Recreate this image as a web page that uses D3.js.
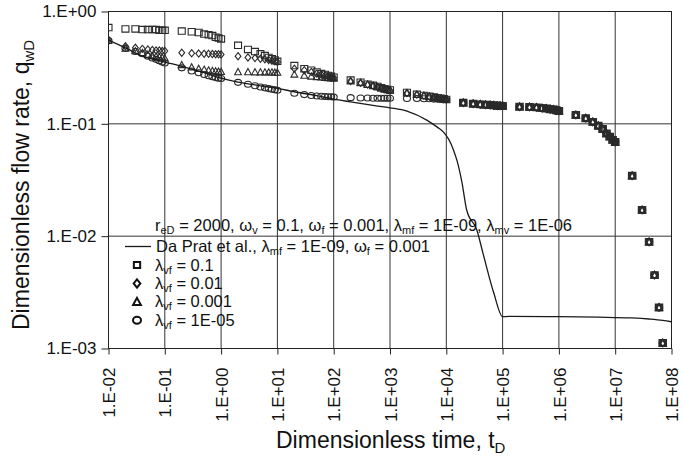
<!DOCTYPE html>
<html>
<head>
<meta charset="utf-8">
<script src="https://cdnjs.cloudflare.com/ajax/libs/d3/7.8.5/d3.min.js"></script>
<style>
body { margin:0; background:#fff; }
svg { font-family: "Liberation Sans", Arial, sans-serif; }
</style>
</head>
<body>
<div id="chart"></div>
<script>
var svgWidth = 685
var svgHeight = 464

// axis ticks
var xTicks = [1e-2, 1e-1, 1e0, 1e1, 1e2, 1e3, 1e4, 1e5, 1e6, 1e7, 1e8]
var yTicks = [1e-3, 1e-2, 1e-1, 1e0]

// sampling times of the simulated points
var tEarly = [0.01,
  0.02, 0.03, 0.04, 0.05, 0.06, 0.07, 0.08, 0.09, 0.1,
  0.2, 0.3, 0.4, 0.5, 0.6, 0.7, 0.8, 0.9, 1,
  2, 3, 4, 5, 6, 7, 8, 9, 10,
  20, 30, 40, 50, 60, 70, 80, 90, 100,
  200, 300, 400, 500, 600, 700, 800, 900, 1000,
  2000, 3000, 4000, 5000, 6000, 7000, 8000, 9000, 10000]
var tLate = [2e4, 3e4, 4e4, 5e4, 6e4, 7e4, 8e4, 9e4, 1e5,
  2e5, 3e5, 4e5, 5e5, 6e5, 7e5, 8e5, 9e5, 1e6,
  2e6, 3e6, 4e6, 5e6, 6e6, 7e6, 8e6, 9e6, 1e7,
  2e7, 3e7, 4e7, 5e7, 6e7, 7e7]

// qwD, lambda_vf = 0.1
var qVf1 = [0.72,
  0.70, 0.70, 0.69, 0.69, 0.69, 0.69, 0.68, 0.68, 0.68,
  0.67, 0.66, 0.65, 0.63, 0.62, 0.61, 0.59, 0.58, 0.57,
  0.50, 0.46, 0.44, 0.42, 0.405, 0.39, 0.38, 0.37, 0.36,
  0.33, 0.31, 0.30, 0.29, 0.28, 0.275, 0.27, 0.265, 0.26,
  0.245, 0.235, 0.225, 0.22, 0.215, 0.21, 0.205, 0.202, 0.20,
  0.19, 0.183, 0.179, 0.176, 0.173, 0.171, 0.169, 0.167, 0.165]
// lambda_vf = 0.01
var qVf2 = [0.56,
  0.49, 0.475, 0.465, 0.46, 0.455, 0.45, 0.45, 0.445, 0.445,
  0.43, 0.425, 0.422, 0.42, 0.42, 0.418, 0.417, 0.416, 0.415,
  0.40, 0.39, 0.385, 0.38, 0.375, 0.37, 0.365, 0.36, 0.355,
  0.31, 0.30, 0.29, 0.28, 0.275, 0.27, 0.265, 0.26, 0.257,
  0.24, 0.232, 0.224, 0.218, 0.213, 0.208, 0.204, 0.201, 0.198,
  0.188, 0.182, 0.178, 0.175, 0.172, 0.17, 0.168, 0.166, 0.165]
// lambda_vf = 0.001
var qVf3 = [0.55,
  0.47, 0.445, 0.43, 0.415, 0.405, 0.40, 0.395, 0.39, 0.385,
  0.335, 0.32, 0.31, 0.305, 0.30, 0.297, 0.295, 0.293, 0.291,
  0.29, 0.29, 0.289, 0.289, 0.288, 0.288, 0.288, 0.287, 0.287,
  0.276, 0.27, 0.265, 0.262, 0.26, 0.258, 0.256, 0.255, 0.254,
  0.24, 0.232, 0.224, 0.218, 0.213, 0.208, 0.204, 0.201, 0.198,
  0.188, 0.182, 0.178, 0.175, 0.172, 0.17, 0.168, 0.166, 0.165]
// lambda_vf = 1E-05
var qVf5 = [0.55,
  0.47, 0.44, 0.42, 0.40, 0.385, 0.375, 0.365, 0.355, 0.348,
  0.315, 0.295, 0.285, 0.275, 0.268, 0.263, 0.258, 0.255, 0.253,
  0.234, 0.225, 0.218, 0.213, 0.209, 0.206, 0.203, 0.201, 0.199,
  0.187, 0.182, 0.179, 0.177, 0.176, 0.175, 0.174, 0.174, 0.173,
  0.171, 0.170, 0.170, 0.169, 0.169, 0.169, 0.169, 0.169, 0.169,
  0.168, 0.168, 0.167, 0.167, 0.166, 0.166, 0.165, 0.165, 0.165]
// after 1E+04 all four cases coincide
var qLate = [0.154, 0.151, 0.149, 0.148, 0.147, 0.146, 0.145, 0.145, 0.144,
  0.142, 0.141, 0.140, 0.138, 0.137, 0.135, 0.134, 0.132, 0.130,
  0.120, 0.112, 0.104, 0.096, 0.090, 0.082, 0.077, 0.072, 0.069,
  0.0345, 0.0171, 0.0089, 0.0045, 0.00232, 0.00112]

// Da Prat et al. curve
var lineT = [0.01, 0.02, 0.04, 0.1, 0.2, 0.5, 1, 2, 5, 10, 20, 50, 100, 200, 500, 1000,
  2000, 4500, 7000, 9000, 1.1e4, 1.35e4, 1.55e4, 1.9e4, 2.3e4, 3.5e4, 4.5e4, 7e4, 1e5,
  1.3e5, 1e6, 5e6, 2e7, 4e7, 7e7, 1e8]
var lineQ = [0.557, 0.475, 0.40, 0.355, 0.325, 0.285, 0.255, 0.235, 0.218, 0.207, 0.193, 0.178, 0.166, 0.157, 0.146, 0.139,
  0.130, 0.108, 0.093, 0.084, 0.073, 0.058, 0.047, 0.030, 0.0171, 0.0113, 0.0070, 0.0031, 0.00192,
  0.00193, 0.00192, 0.00190, 0.00187, 0.00183, 0.00178, 0.00173]

var x = d3.scaleLog().domain([1e-2, 1e8]).range([108.5, 671.5])
var y = d3.scaleLog().domain([1e-3, 1]).range([348.5, 11.5])

var svg = d3.select("#chart").append("svg").attr("width", svgWidth).attr("height", svgHeight)

svg.append("defs").append("clipPath").attr("id", "plotclip")
  .append("rect").attr("x", 108.5).attr("y", 11.5).attr("width", 563).attr("height", 337)

// grid
svg.append("g").selectAll("line").data(xTicks.slice(1, -1)).enter().append("line")
  .attr("x1", d => x(d)).attr("x2", d => x(d)).attr("y1", 11.5).attr("y2", 348.5)
  .style("stroke", "#333").style("stroke-width", 1)
svg.append("g").selectAll("line").data(yTicks.slice(1, -1)).enter().append("line")
  .attr("y1", d => y(d)).attr("y2", d => y(d)).attr("x1", 108.5).attr("x2", 671.5)
  .style("stroke", "#333").style("stroke-width", 1)
svg.append("rect").attr("x", 108.5).attr("y", 11.5).attr("width", 563).attr("height", 337)
  .style("fill", "none").style("stroke", "#222").style("stroke-width", 1)

function markerPath(type, s) {
  if (type == "square") return "M" + (-3.5 * s) + "," + (-3.2 * s) + "h" + (7 * s) + "v" + (6.4 * s) + "h" + (-7 * s) + "Z"
  if (type == "diamond") return "M0," + (-3.6 * s) + "L" + (2.9 * s) + ",0L0," + (3.6 * s) + "L" + (-2.9 * s) + ",0Z"
  if (type == "triangle") return "M0," + (-3.4 * s) + "L" + (3.4 * s) + "," + (2.8 * s) + "L" + (-3.4 * s) + "," + (2.8 * s) + "Z"
  var rx = 3.5 * s, ry = 3 * s
  return "M" + (-rx) + ",0a" + rx + "," + ry + " 0 1,0 " + (2 * rx) + ",0a" + rx + "," + ry + " 0 1,0 " + (-2 * rx) + ",0Z"
}

var series = [
  { type: "circle", q: qVf5.concat(qLate) },
  { type: "triangle", q: qVf3.concat(qLate) },
  { type: "diamond", q: qVf2.concat(qLate) },
  { type: "square", q: qVf1.concat(qLate) }
]
var tAll = tEarly.concat(tLate)

var plot = svg.append("g").attr("clip-path", "url(#plotclip)")
series.forEach(function(s) {
  plot.append("g").selectAll("path").data(s.q).enter().append("path")
    .attr("transform", (d, i) => "translate(" + x(tAll[i]) + "," + y(d) + ")")
    .attr("d", markerPath(s.type, 1))
    .style("fill", "none").style("stroke", "#2a2a2a").style("stroke-width", d => d < 0.155 ? 1.5 : 1.1)
})

var line = d3.line().x(d => x(d[0])).y(d => y(d[1])).curve(d3.curveMonotoneX)
plot.append("path").datum(lineT.map((t, i) => [t, lineQ[i]]))
  .attr("d", line).style("fill", "none").style("stroke", "#1a1a1a").style("stroke-width", 1.3)

// axes
function expFmt(d) {
  var e = Math.round(Math.log10(d))
  return "1.E" + (e < 0 ? "-" : "+") + (Math.abs(e) < 10 ? "0" : "") + Math.abs(e)
}
var xAxis = svg.append("g").attr("transform", "translate(0,348.5)")
  .call(d3.axisBottom(x).tickValues(xTicks).tickFormat(expFmt).tickSize(6))
xAxis.select(".domain").remove()
xAxis.selectAll("text").attr("transform", "rotate(-90)").attr("x", -19).attr("y", 0)
  .attr("dy", "0.36em").style("text-anchor", "end")
var yAxis = svg.append("g").attr("transform", "translate(108.5,0)")
  .call(d3.axisLeft(y).tickValues(yTicks).tickFormat(expFmt).tickSize(7).tickPadding(5))
yAxis.select(".domain").remove()
svg.selectAll(".tick text").style("font-size", "17px").style("fill", "#111").attr("font-family", null)
svg.selectAll(".tick line").style("stroke", "#222")

function richText(g, px, py, size, subSize, shift, parts) {
  var t = g.append("text").attr("x", px).attr("y", py).style("font-size", size + "px").style("fill", "#111")
  var cur = 0
  parts.forEach(function(p) {
    var off = p[1] ? shift : 0
    t.append("tspan").attr("dy", off - cur).style("font-size", (p[1] ? subSize : size) + "px").text(p[0])
    cur = off
  })
  return t
}

svg.append("g").call(function(g) {
  richText(g, 0, 0, 23, 15, 5, [["Dimensionless time, t"], ["D", 1]])
}).attr("transform", "translate(276,448)")
svg.append("g").call(function(g) {
  richText(g, 0, 0, 23, 15, 5, [["Dimensionless flow rate, q"], ["wD", 1]])
}).attr("transform", "translate(29,330) rotate(-90)")

// legend
var legend = svg.append("g")
richText(legend, 155, 231, 16.5, 11, 3, [["r"], ["eD", 1], [" = 2000, ω"], ["v", 1], [" = 0.1, ω"], ["f", 1],
  [" = 0.001, λ"], ["mf", 1], [" = 1E-09, λ"], ["mv", 1], [" = 1E-06"]])
legend.append("line").attr("x1", 125).attr("x2", 151).attr("y1", 246.5).attr("y2", 246.5)
  .style("stroke", "#1a1a1a").style("stroke-width", 1.3)
richText(legend, 156, 252, 16.5, 11, 3, [["Da Prat et al., λ"], ["mf", 1], [" = 1E-09, ω"], ["f", 1], [" = 0.001"]])

var legendRows = [
  { type: "square", label: "0.1" },
  { type: "diamond", label: "0.01" },
  { type: "triangle", label: "0.001" },
  { type: "circle", label: "1E-05" }
]
legendRows.forEach(function(r, i) {
  var by = 270.5 + i * 18.4
  legend.append("path").attr("transform", "translate(137," + (by - 5.5) + ")")
    .attr("d", markerPath(r.type, r.type == "square" ? 0.9 : 1.15))
    .style("fill", "none").style("stroke", "#111").style("stroke-width", 2)
  richText(legend, 155, by, 16.5, 11, 3, [["λ"], ["vf", 1], [" = " + r.label]])
})
</script>
</body>
</html>
